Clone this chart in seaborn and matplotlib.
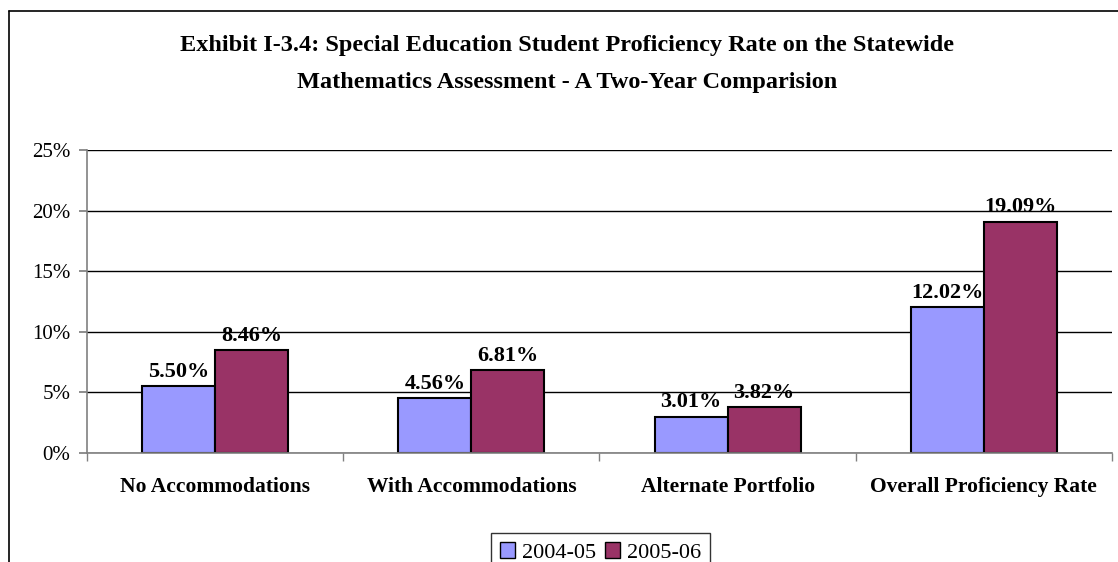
import numpy as np
import pandas as pd
import seaborn as sns
import matplotlib.pyplot as plt
from matplotlib.lines import Line2D
from matplotlib.patches import Patch
from matplotlib.ticker import PercentFormatter

categories = ['No Accommodations', 'With Accommodations', 'Alternate Portfolio', 'Overall Proficiency Rate']
years = ['2004-05', '2005-06']
rate_0405 = [5.50, 4.56, 3.01, 12.02]
rate_0506 = [8.46, 6.81, 3.82, 19.09]
colors = ['#9999FF', '#993366']

df = pd.DataFrame({
    'category': categories * 2,
    'year': [years[0]] * 4 + [years[1]] * 4,
    'rate': rate_0405 + rate_0506,
})

sns.set_theme(style='white')
plt.rcParams['font.family'] = ['Liberation Serif', 'DejaVu Serif']
plt.rcParams['text.color'] = 'black'
plt.rcParams['xtick.labelcolor'] = 'black'
plt.rcParams['ytick.labelcolor'] = 'black'

fig = plt.figure(figsize=(11.18, 5.62), dpi=100)
ax = fig.add_axes([0.0778, 0.194, 0.9168, 0.539])

sns.barplot(data=df, x='category', y='rate', hue='year', palette=colors, saturation=1,
            width=0.57, gap=0, edgecolor='black', linewidth=1.5, ax=ax, legend=False)

for cont in ax.containers:
    ax.bar_label(cont, labels=[f'{b.get_height():.2f}%' for b in cont],
                 fontsize=16, fontweight='bold', padding=3, color='black')

ax.set_ylim(0, 25)
ax.set_xlim(-0.5, 3.5)
ax.set_yticks(np.arange(0, 26, 5))
ax.yaxis.set_major_formatter(PercentFormatter(decimals=0))
ax.grid(axis='y', color='black', linewidth=1)
ax.set_axisbelow(True)
ax.set_xlabel('')
ax.set_ylabel('')
for s in ['top', 'right']:
    ax.spines[s].set_visible(False)
for s in ['left', 'bottom']:
    ax.spines[s].set_color('#808080')
    ax.spines[s].set_linewidth(1.2)

ax.tick_params(axis='y', left=True, length=6, color='#808080', labelsize=15, pad=6,
               labelcolor='black')
ax.set_xticks(range(4))
ax.set_xticklabels(categories, fontsize=15.5, fontweight='bold', color='black')
ax.tick_params(axis='x', bottom=False, pad=11)
ax.set_xticks(np.arange(-0.5, 4, 1), minor=True)
ax.tick_params(axis='x', which='minor', bottom=True, length=6, color='#808080')

fig.text(0.507, 0.919, 'Exhibit I-3.4: Special Education Student Proficiency Rate on the Statewide',
         ha='center', va='center', fontsize=17.5, fontweight='bold', color='black')
fig.text(0.507, 0.853, 'Mathematics Assessment - A Two-Year Comparision',
         ha='center', va='center', fontsize=17.5, fontweight='bold', color='black')

handles = [Patch(facecolor=c, edgecolor='black', label=y) for c, y in zip(colors, years)]
leg = fig.legend(handles=handles, loc='upper center', bbox_to_anchor=(0.537, 0.071),
                 ncol=2, fontsize=16, frameon=True, fancybox=False,
                 handlelength=0.7, handleheight=0.7, handletextpad=0.3,
                 columnspacing=0.4, borderpad=0.4, labelcolor='black')
leg.get_frame().set_edgecolor('black')
leg.get_frame().set_linewidth(1)

fig.add_artist(Line2D([0.008, 0.008], [0.0, 0.981], color='black', linewidth=1.2))
fig.add_artist(Line2D([0.008, 1.0], [0.981, 0.981], color='black', linewidth=1.2))

fig.savefig('out.png', dpi=100)
